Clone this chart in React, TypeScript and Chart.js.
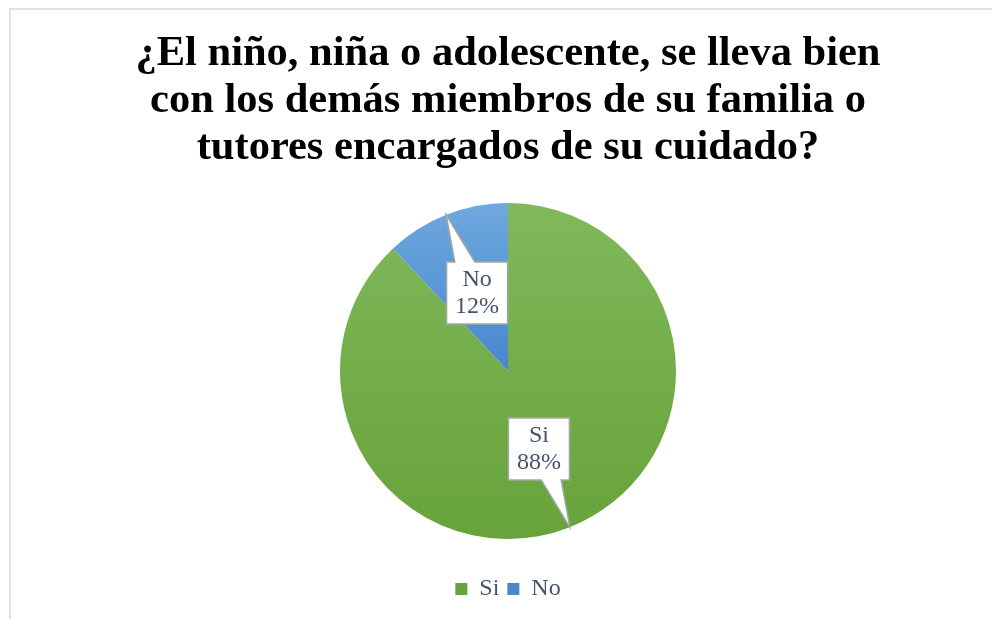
import React, { useEffect, useRef } from "react";
import { Chart, registerables } from "chart.js";

Chart.register(...registerables);

const titleLines = [
  "¿El niño, niña o adolescente, se lleva bien",
  "con los demás miembros de su familia o",
  "tutores encargados de su cuidado?",
];
const categories = ["Si", "No"];
const percentValues = [88, 12];
const percentLabels = ["88%", "12%"];

const SERIF = "'Liberation Serif', 'Times New Roman', serif";
const TEXT_COLOR = "#44546A";
const PIE_RADIUS = 168;

const gradientStops: Record<number, [string, string]> = {
  0: ["#80b85b", "#67a33a"],
  1: ["#6ea8de", "#4787cd"],
};

function sliceColor(ctx: any) {
  const chart = ctx.chart;
  const idx = ctx.dataIndex ?? 0;
  const stops = gradientStops[idx] || ["#999", "#777"];
  const area = chart.chartArea;
  if (!area) return stops[1];
  const cy = (area.top + area.bottom) / 2;
  const top = cy - PIE_RADIUS;
  const bottom = idx === 1 ? cy : cy + PIE_RADIUS;
  const g = chart.ctx.createLinearGradient(0, top, 0, bottom);
  g.addColorStop(0, stops[0]);
  g.addColorStop(1, stops[1]);
  return g;
}

const calloutPlugin = {
  id: "callouts",
  afterDatasetsDraw(chart: any) {
    const meta = chart.getDatasetMeta(0);
    const ctx = chart.ctx;
    const boxW = 61;
    const boxH = 62;
    const hw = 10;
    meta.data.forEach((arc: any, i: number) => {
      const p = arc.getProps(["x", "y", "startAngle", "endAngle", "outerRadius"], true);
      const mid = (p.startAngle + p.endAngle) / 2;
      const tipX = p.x + Math.cos(mid) * p.outerRadius;
      const tipY = p.y + Math.sin(mid) * p.outerRadius;
      const cx = p.x + Math.cos(mid) * p.outerRadius * 0.5;
      const cy = p.y + Math.sin(mid) * p.outerRadius * 0.5;
      const left = cx - boxW / 2;
      const right = cx + boxW / 2;
      const top = cy - boxH / 2;
      const bottom = cy + boxH / 2;
      const dx = tipX - cx;
      const dy = tipY - cy;
      ctx.save();
      ctx.beginPath();
      if (Math.abs(dy) * boxW >= Math.abs(dx) * boxH) {
        const edgeY = dy < 0 ? top : bottom;
        const t = (edgeY - cy) / dy;
        let bx = cx + dx * t;
        bx = Math.max(left + hw, Math.min(right - hw, bx));
        if (dy < 0) {
          ctx.moveTo(left, top);
          ctx.lineTo(bx - hw, top);
          ctx.lineTo(tipX, tipY);
          ctx.lineTo(bx + hw, top);
          ctx.lineTo(right, top);
          ctx.lineTo(right, bottom);
          ctx.lineTo(left, bottom);
        } else {
          ctx.moveTo(left, top);
          ctx.lineTo(right, top);
          ctx.lineTo(right, bottom);
          ctx.lineTo(bx + hw, bottom);
          ctx.lineTo(tipX, tipY);
          ctx.lineTo(bx - hw, bottom);
          ctx.lineTo(left, bottom);
        }
      } else {
        const edgeX = dx < 0 ? left : right;
        const t = (edgeX - cx) / dx;
        let by = cy + dy * t;
        by = Math.max(top + hw, Math.min(bottom - hw, by));
        if (dx < 0) {
          ctx.moveTo(left, top);
          ctx.lineTo(right, top);
          ctx.lineTo(right, bottom);
          ctx.lineTo(left, bottom);
          ctx.lineTo(left, by + hw);
          ctx.lineTo(tipX, tipY);
          ctx.lineTo(left, by - hw);
        } else {
          ctx.moveTo(left, top);
          ctx.lineTo(right, top);
          ctx.lineTo(right, by - hw);
          ctx.lineTo(tipX, tipY);
          ctx.lineTo(right, by + hw);
          ctx.lineTo(right, bottom);
          ctx.lineTo(left, bottom);
        }
      }
      ctx.closePath();
      ctx.fillStyle = "#ffffff";
      ctx.fill();
      ctx.lineWidth = 1.5;
      ctx.strokeStyle = "#a6a6a6";
      ctx.lineJoin = "miter";
      ctx.stroke();
      ctx.fillStyle = TEXT_COLOR;
      ctx.font = `24px ${SERIF}`;
      ctx.textAlign = "center";
      ctx.textBaseline = "middle";
      ctx.fillText(categories[i], cx, cy - 13);
      ctx.fillText(percentLabels[i], cx, cy + 14);
      ctx.restore();
    });
  },
};

export default function App() {
  const canvasRef = useRef<HTMLCanvasElement | null>(null);

  useEffect(() => {
    document.body.style.margin = "0";
    const canvas = canvasRef.current;
    if (!canvas) return;
    const chart = new Chart(canvas, {
      type: "pie",
      data: {
        labels: categories,
        datasets: [
          {
            data: percentValues,
            backgroundColor: sliceColor as any,
            borderWidth: 0,
            radius: PIE_RADIUS,
          } as any,
        ],
      },
      options: {
        animation: false,
        responsive: false,
        devicePixelRatio: 1,
        layout: { padding: { left: 24, right: 0, top: 0, bottom: 8 } },
        plugins: {
          title: {
            display: true,
            text: titleLines,
            color: "#000000",
            font: { family: SERIF, size: 42.5, weight: "bold", lineHeight: 1.106 },
            padding: { top: 31, bottom: 1 },
          },
          legend: {
            display: true,
            position: "bottom",
            labels: {
              color: TEXT_COLOR,
              font: { family: SERIF, size: 24 },
              boxWidth: 12,
              boxHeight: 12,
              padding: 8,
            },
          },
          tooltip: { enabled: false },
        },
      },
      plugins: [calloutPlugin],
    });
    return () => chart.destroy();
  }, []);

  return (
    <div style={{ position: "relative", width: 992, height: 619, overflow: "hidden", background: "#fff" }}>
      <div
        style={{
          position: "absolute",
          left: 9,
          top: 8,
          width: 1000,
          height: 700,
          borderLeft: "2px solid #dfe3ea",
          borderTop: "2px solid #dfe3ea",
        }}
      />
      <canvas
        ref={canvasRef}
        width={992}
        height={619}
        style={{ position: "absolute", left: 0, top: 0, width: 992, height: 619 }}
      />
    </div>
  );
}
